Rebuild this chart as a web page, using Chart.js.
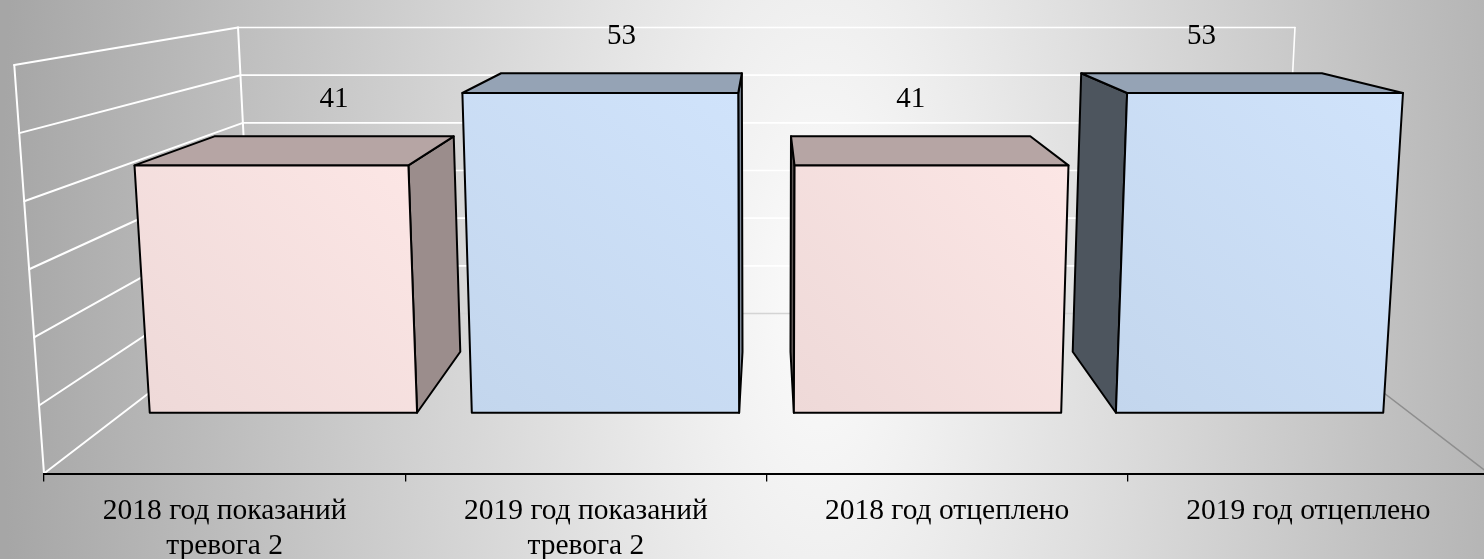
<!DOCTYPE html>
<html>
<head>
<meta charset="utf-8">
<script src="https://cdn.jsdelivr.net/npm/chart.js@4.4.1/dist/chart.umd.min.js"></script>
<style>
  html, body { margin: 0; padding: 0; overflow: hidden; background: #d0d0d0; }
  #wrap { width: 1484px; height: 559px; overflow: hidden; }
  canvas { display: block; }
</style>
</head>
<body>
<div id="wrap"><canvas id="chart" width="1490" height="576"></canvas></div>
<script>
// ---------- данные ----------
const categories = [
  ['2018 год показаний', 'тревога 2'],
  ['2019 год показаний', 'тревога 2'],
  '2018 год отцеплено',
  '2019 год отцеплено'
];
const values = [41, 53, 41, 53];
const wallTicks = [0, 10, 20, 30, 40, 50, 60];
const barColors = [[242, 220, 219], [198, 217, 241], [242, 220, 219], [198, 217, 241]];

// ---------- 3D параметры ----------
const KBACK = 0.70;          // масштаб задней стенки
const BAR_Z = [0.30, 0.69];  // глубина столбцов (0 = перед, 1 = задняя стенка)
const LEAN_Y = 10400;        // вертикальная точка схода
const FONT = '"Liberation Serif", "Times New Roman", serif';

function makeProj(chart) {
  const a = chart.chartArea;
  const cx = (a.left + a.right) / 2;
  const vy = a.top - 125;
  const floorY = a.bottom;
  const P = (xf, yf, z) => {
    const k = 1 / (1 + (1 / KBACK - 1) * z);
    const px = cx + (xf - cx) * k;
    const py = vy + (yf - vy) * k;
    const lean = (LEAN_Y - py) / (LEAN_Y - floorY);
    return [cx + (px - cx) * lean, py];
  };
  P.cx = cx;
  return P;
}

function line(ctx, p, q) {
  ctx.beginPath();
  ctx.moveTo(p[0], p[1]);
  ctx.lineTo(q[0], q[1]);
  ctx.stroke();
}

function poly(ctx, pts, fill) {
  ctx.beginPath();
  ctx.moveTo(pts[0][0], pts[0][1]);
  for (let i = 1; i < pts.length; i++) ctx.lineTo(pts[i][0], pts[i][1]);
  ctx.closePath();
  ctx.fillStyle = fill;
  ctx.fill();
  ctx.stroke();
}

const shade = (c, f) => `rgb(${Math.round(c[0] * f)},${Math.round(c[1] * f)},${Math.round(c[2] * f)})`;

// ---------- плагин: фон и стенки ----------
const walls3d = {
  id: 'walls3d',
  beforeDraw(chart) {
    const ctx = chart.ctx;
    const a = chart.chartArea;
    const ys = chart.scales.y;
    const P = makeProj(chart);

    // фон
    ctx.save();
    ctx.translate(820, 290);
    ctx.scale(1, 2.36);
    const g = ctx.createRadialGradient(0, 0, 0, 0, 0, 820);
    g.addColorStop(0, '#fcfcfc');
    g.addColorStop(1, '#a6a6a6');
    ctx.fillStyle = g;
    ctx.fillRect(-2000, -2000, 4000, 4000);
    ctx.restore();

    const L = a.left, R = a.right;
    const y0 = ys.getPixelForValue(0);
    const yTop = ys.getPixelForValue(wallTicks[wallTicks.length - 1]);

    ctx.save();
    ctx.lineCap = 'round';
    // пол: задний край и правый край
    ctx.lineWidth = 1.5;
    ctx.strokeStyle = '#d4d4d4';
    line(ctx, P(L, y0, 1), P(R, y0, 1));
    ctx.strokeStyle = '#8e8e8e';
    line(ctx, P(R, y0, 1), P(R, y0, 0));

    // левая стенка
    ctx.strokeStyle = '#ffffff';
    ctx.lineWidth = 2;
    wallTicks.forEach(v => {
      const yv = ys.getPixelForValue(v);
      line(ctx, P(L, yv, 0), P(L, yv, 1));
    });
    line(ctx, P(L, y0, 0), P(L, yTop, 0));
    line(ctx, P(L, y0, 1), P(L, yTop, 1));

    // задняя стенка
    ctx.lineWidth = 1.6;
    wallTicks.filter(v => v > 0).forEach(v => {
      const yv = ys.getPixelForValue(v);
      line(ctx, P(L, yv, 1), P(R, yv, 1));
    });
    line(ctx, P(R, y0, 1), P(R, yTop, 1));
    ctx.restore();
  },

  beforeDatasetsDraw(chart) {
    const ctx = chart.ctx;
    const P = makeProj(chart);
    const meta = chart.getDatasetMeta(0);
    const [z0, z1] = BAR_Z;

    const order = meta.data.map((b, i) => i)
      .sort((i, j) => Math.abs(meta.data[j].x - P.cx) - Math.abs(meta.data[i].x - P.cx));

    ctx.save();
    ctx.lineJoin = 'round';
    ctx.lineWidth = 2;
    ctx.strokeStyle = '#000';
    order.forEach(i => {
      const b = meta.data[i].getProps(['x', 'y', 'base', 'width'], true);
      const c = barColors[i];
      const x0 = b.x - b.width / 2, x1 = b.x + b.width / 2;
      const F = [P(x0, b.y, z0), P(x1, b.y, z0), P(x1, b.base, z0), P(x0, b.base, z0)];
      const B = [P(x0, b.y, z1), P(x1, b.y, z1), P(x1, b.base, z1), P(x0, b.base, z1)];

      if (x1 < P.cx) poly(ctx, [F[1], B[1], B[2], F[2]], shade(c, 0.64));
      if (x0 > P.cx) poly(ctx, [F[0], B[0], B[3], F[3]], shade(c, 0.39));
      poly(ctx, [F[0], F[1], B[1], B[0]], shade(c, 0.75));

      const gr = ctx.createLinearGradient(F[3][0], F[3][1], F[1][0], F[1][1]);
      gr.addColorStop(0, shade(c, 0.985));
      gr.addColorStop(1, `rgb(${Math.min(255, c[0] + 10)},${Math.min(255, c[1] + 10)},${Math.min(255, c[2] + 10)})`);
      poly(ctx, F, gr);
    });

    // подписи значений
    ctx.fillStyle = '#000';
    ctx.font = '29px ' + FONT;
    ctx.textAlign = 'center';
    ctx.textBaseline = 'middle';
    meta.data.forEach((el, i) => {
      const p = P(el.x, el.y, z1);
      ctx.fillText(String(values[i]), p[0], p[1] - 37);
    });
    ctx.restore();
    return false;
  }
};

new Chart(document.getElementById('chart'), {
  type: 'bar',
  data: {
    labels: categories,
    datasets: [{
      data: values,
      backgroundColor: 'rgba(0,0,0,0)',
      categoryPercentage: 1,
      barPercentage: 0.83
    }]
  },
  options: {
    responsive: false,
    animation: false,
    devicePixelRatio: 1,
    layout: { padding: { top: 65, left: 44, right: 1, bottom: 0 } },
    plugins: { legend: { display: false }, tooltip: { enabled: false } },
    scales: {
      y: { display: false, min: 0, max: 60 },
      x: {
        grid: { drawOnChartArea: false, drawTicks: true, tickLength: 8, color: '#000', lineWidth: 1.3 },
        border: { display: true, color: '#000', width: 2 },
        ticks: {
          color: '#000',
          padding: 13,
          maxRotation: 0,
          autoSkip: false,
          font: { family: FONT, size: 29.5, lineHeight: 1.16 }
        }
      }
    }
  },
  plugins: [walls3d]
});
</script>
</body>
</html>
